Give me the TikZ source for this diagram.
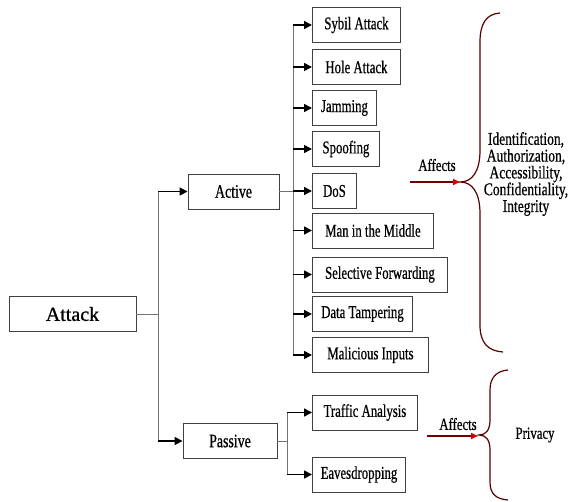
\documentclass[tikz,border=0pt]{standalone}
\usepackage{fontspec}
\setmainfont{Liberation Serif}
\newfontfamily\cf[FakeStretch=0.71,FakeBold=0.6]{Liberation Serif}
\newfontfamily\cfa[FakeStretch=0.73,FakeBold=0.6]{Liberation Serif}
\newfontfamily\cfr[FakeStretch=0.75,FakeBold=0.6]{Liberation Serif}
\newfontfamily\cfm[FakeBold=0.8]{Liberation Serif}
\usetikzlibrary{arrows.meta}
\begin{document}
\begin{tikzpicture}[x=1pt,y=-1pt,
  box/.style={draw=black!75, line width=0.9pt, minimum height=35pt, inner sep=0pt, anchor=west,
    font=\cf\fontsize{18}{20}\selectfont},
  mainbox/.style={draw=black!75, line width=0.9pt, minimum height=35pt, inner sep=0pt,
    font=\cfa\fontsize{19}{21}\selectfont},
  conn/.style={draw=black!55, line width=0.9pt},
  harr/.style={draw=black, line width=1.6pt, -{Triangle[length=8pt,width=8pt]}},
  affarr/.style={draw=red!45!black, line width=1.6pt, -{Triangle[length=7pt,width=6pt,color=red!85!black]}},
  brace/.style={draw=red!35!black, line width=1.2pt},
  lbl/.style={font=\cfr\fontsize{17}{19}\selectfont, inner sep=0pt}
]
\useasboundingbox (0,0) rectangle (573,502);

% main boxes
\node[mainbox, minimum width=127pt, font=\cfm\fontsize{20}{22}\selectfont] (attack) at (72.5,314) {Attack};
\node[mainbox, minimum width=91pt] (active) at (233.5,191.5) {Active};
\node[mainbox, minimum width=94pt] (passive) at (230,441) {Passive};

% active children
\node[box, minimum width=88pt]  (sybil) at (312,25) {Sybil Attack};
\node[box, minimum width=88pt]  (hole)  at (312,67) {Hole Attack};
\node[box, minimum width=64pt]  (jam)   at (312,108) {Jamming};
\node[box, minimum width=67pt]  (spoof) at (312,149) {Spoofing};
\node[box, minimum width=44pt]  (dos)   at (312,191) {DoS};
\node[box, minimum width=121pt] (mitm)  at (312,230.5) {Man in the Middle};
\node[box, minimum width=135pt] (selfw) at (312,274.5) {Selective Forwarding};
\node[box, minimum width=100pt] (datat) at (312,314) {Data Tampering};
\node[box, minimum width=116pt] (malin) at (312,355) {Malicious Inputs};

% passive children
\node[box, minimum width=105pt] (traffic) at (312,412.5) {Traffic Analysis};
\node[box, minimum width=93pt]  (eaves)   at (312,474.5) {Eavesdropping};

% trunks
\coordinate (mt) at (158,314);
\coordinate (at) at (293,191.5);
\coordinate (pt) at (287,441);

\draw[conn] (attack.east) -- (attack.east -| mt);
\draw[conn] (active.west -| mt) -- (passive.west -| mt);
\draw[harr] (active.west -| mt) -- (active.west);
\draw[harr] (passive.west -| mt) -- (passive.west);

\draw[conn] (active.east) -- (active.east -| at);
\draw[conn] (sybil.west -| at) -- (malin.west -| at);
\foreach \n in {sybil,hole,jam,spoof,dos,mitm,selfw,datat,malin}
  \draw[harr] (\n.west -| at) -- (\n.west);

\draw[conn] (passive.east) -- (passive.east -| pt);
\draw[conn] (traffic.west -| pt) -- (eaves.west -| pt);
\foreach \n in {traffic,eaves}
  \draw[harr] (\n.west -| pt) -- (\n.west);

% braces
\draw[brace] (500,13) .. controls (486,14) and (480,24) .. (480,42) -- (480,150)
  .. controls (480,172) and (472,182) .. (460,182)
  .. controls (472,182) and (480,192) .. (480,214) -- (480,325)
  .. controls (480,343) and (488,351) .. (503,352);
\draw[brace] (508,370) .. controls (496,371) and (490,378) .. (490,390) -- (490,420)
  .. controls (490,430) and (486,435) .. (479,435)
  .. controls (486,435) and (490,440) .. (490,450) -- (490,482)
  .. controls (490,494) and (496,499) .. (508,500);

% affects arrows
\coordinate (src1) at (410,182);
\coordinate (tip1) at (460,182);
\coordinate (src2) at (427,436);
\coordinate (tip2) at (478,436);
\draw[affarr] (src1) -- (tip1);
\draw[affarr] (src2) -- (tip2);
\node[lbl] (aff1) at (437,165) {Affects};
\node[lbl] (aff2) at (458,424) {Affects};

% effects
\node[font=\cfr\fontsize{18}{16.8}\selectfont, align=center, inner sep=0pt] (props) at (526,174) {Identification,\\Authorization,\\Accessibility,\\Confidentiality,\\Integrity};
\node[lbl] (privacy) at (535,435) {Privacy};
\end{tikzpicture}
\end{document}
